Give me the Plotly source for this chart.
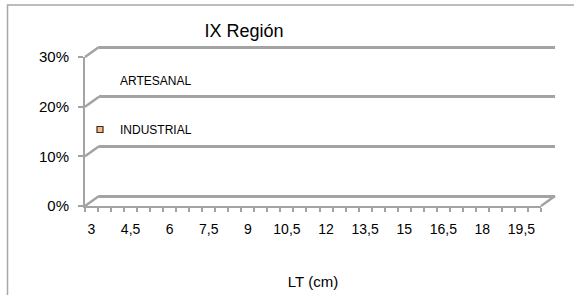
import plotly.graph_objects as go

# ---- data ----
categories = ["3", "3,5", "4", "4,5", "5", "5,5", "6", "6,5", "7", "7,5", "8", "8,5",
              "9", "9,5", "10", "10,5", "11", "11,5", "12", "12,5", "13", "13,5", "14",
              "14,5", "15", "15,5", "16", "16,5", "17", "17,5", "18", "18,5", "19",
              "19,5", "20"]
artesanal = [None] * len(categories)
industrial = [None] * len(categories)
y_ticks = [0, 0.1, 0.2, 0.3]
y_max = 0.3
title_text = "IX Región"
x_title = "LT (cm)"

W, H = 574, 295
GRID = "#a3a3a3"
FONT = "Liberation Sans, Arial, sans-serif"

ticktext = [c if i % 3 == 0 else "" for i, c in enumerate(categories)]

# geometry (pixels)
L, R, B, T = 85, 541, 206, 57      # front plot box
dx, dy = 14, 10                     # 3D depth offset
pad = 3                             # padding so edge lines are not clipped
s = y_max / (B - T)                 # value per pixel


def px_x(p):
    return p / W


def px_y(p):
    return (H - p) / H


fig = go.Figure()
fig.add_trace(go.Scatter(x=categories, y=artesanal, name="ARTESANAL", mode="markers",
                         marker=dict(symbol="square", size=6, color="rgba(0,0,0,0)",
                                     line=dict(width=0)),
                         legendgroup="a"))
fig.add_trace(go.Scatter(x=categories, y=industrial, name="INDUSTRIAL", mode="markers",
                         marker=dict(symbol="square", size=6, color="#f6b98a",
                                     line=dict(width=1.2, color="#3a2a20")),
                         legendgroup="b"))
# back wall subplot and depth-decoration subplot
fig.add_trace(go.Scatter(x=categories, y=[None] * len(categories), xaxis="x2", yaxis="y2",
                         showlegend=False, hoverinfo="skip"))
fig.add_trace(go.Scatter(x=[0], y=[None], xaxis="x3", yaxis="y3",
                         showlegend=False, hoverinfo="skip"))

hidden = dict(showticklabels=False, showgrid=False, showline=False, zeroline=False,
              ticks="", automargin=False, fixedrange=True)

fig.update_layout(
    width=W, height=H, autosize=False,
    margin=dict(l=0, r=0, t=0, b=0),
    paper_bgcolor="white", plot_bgcolor="rgba(0,0,0,0)",
    font=dict(family=FONT, size=14, color="#000000"),
    title=dict(text=title_text, x=244 / W, xanchor="center", y=1 - 31 / H, yanchor="middle",
               font=dict(size=18, family=FONT)),
    showlegend=True,
    legend=dict(x=80 / W, y=1 - 66 / H, xanchor="left", yanchor="top",
                bgcolor="rgba(0,0,0,0)", font=dict(size=12, family=FONT),
                tracegroupgap=30, itemwidth=30),
    xaxis=dict(domain=[px_x(L), px_x(R)], type="category", categoryorder="array",
               categoryarray=categories,
               range=[-0.5, len(categories) - 0.5], automargin=False, tickangle=0,
               tickmode="array", tickvals=categories, ticktext=ticktext,
               tickson="boundaries", ticks="outside", ticklen=4, tickcolor=GRID, tickwidth=1.5,
               showline=True, linecolor=GRID, linewidth=2, showgrid=False, zeroline=False,
               ticklabelstandoff=9, tickfont=dict(size=14),
               title=dict(text=x_title, standoff=41, font=dict(size=15)), anchor="y"),
    yaxis=dict(domain=[px_y(B), px_y(T)], range=[0, y_max], tickmode="array",
               tickvals=y_ticks, tickformat=".0%",
               ticks="outside", ticklen=5, tickcolor=GRID, tickwidth=1.5, automargin=False,
               showline=True, linecolor=GRID, linewidth=2, showgrid=False, zeroline=False,
               ticklabelstandoff=6, tickfont=dict(size=15), anchor="x"),
    # back wall: same scale, shifted by the depth offset
    xaxis2=dict(domain=[px_x(L + dx), px_x(R + dx)], range=[-0.5, len(categories) - 0.5],
                type="category", categoryorder="array", categoryarray=categories,
                anchor="y2", **hidden),
    yaxis2=dict(domain=[px_y(B - dy + pad), px_y(T - dy - pad)],
                range=[-pad * s, y_max + pad * s], tickmode="array", tickvals=y_ticks,
                showticklabels=False, showgrid=True, gridcolor=GRID, gridwidth=2.5,
                showline=False, zeroline=False, ticks="", automargin=False, anchor="x2"),
    # decoration layer: x in pixels from the front-left corner, y in value units
    xaxis3=dict(domain=[px_x(L - pad), px_x(R + dx + pad)], range=[-pad, R - L + dx + pad],
                anchor="y3", **hidden),
    yaxis3=dict(domain=[px_y(B + pad), px_y(T - dy - pad)],
                range=[-pad * s, y_max + (dy + pad) * s], anchor="x3", **hidden),
)

shapes = []
for v in y_ticks:
    # depth connector from the front axis to the back wall gridline
    shapes.append(dict(type="line", xref="x3", yref="y3", x0=0, x1=dx, y0=v, y1=v + dy * s,
                       line=dict(color=GRID, width=2.5)))
# right edge of the floor
shapes.append(dict(type="line", xref="x3", yref="y3", x0=R - L, x1=R - L + dx,
                   y0=0, y1=dy * s, line=dict(color=GRID, width=2.5)))
# chart area border
shapes.append(dict(type="rect", xref="paper", yref="paper", x0=7.5 / W, x1=1.05,
                   y0=-0.05, y1=1 - 5 / H, line=dict(color="#a8a8a8", width=1.5)))
fig.update_layout(shapes=shapes)

fig.write_html("out.html", config={"displayModeBar": False},
               post_script="document.body.style.margin='0';document.body.style.overflow='hidden';")
